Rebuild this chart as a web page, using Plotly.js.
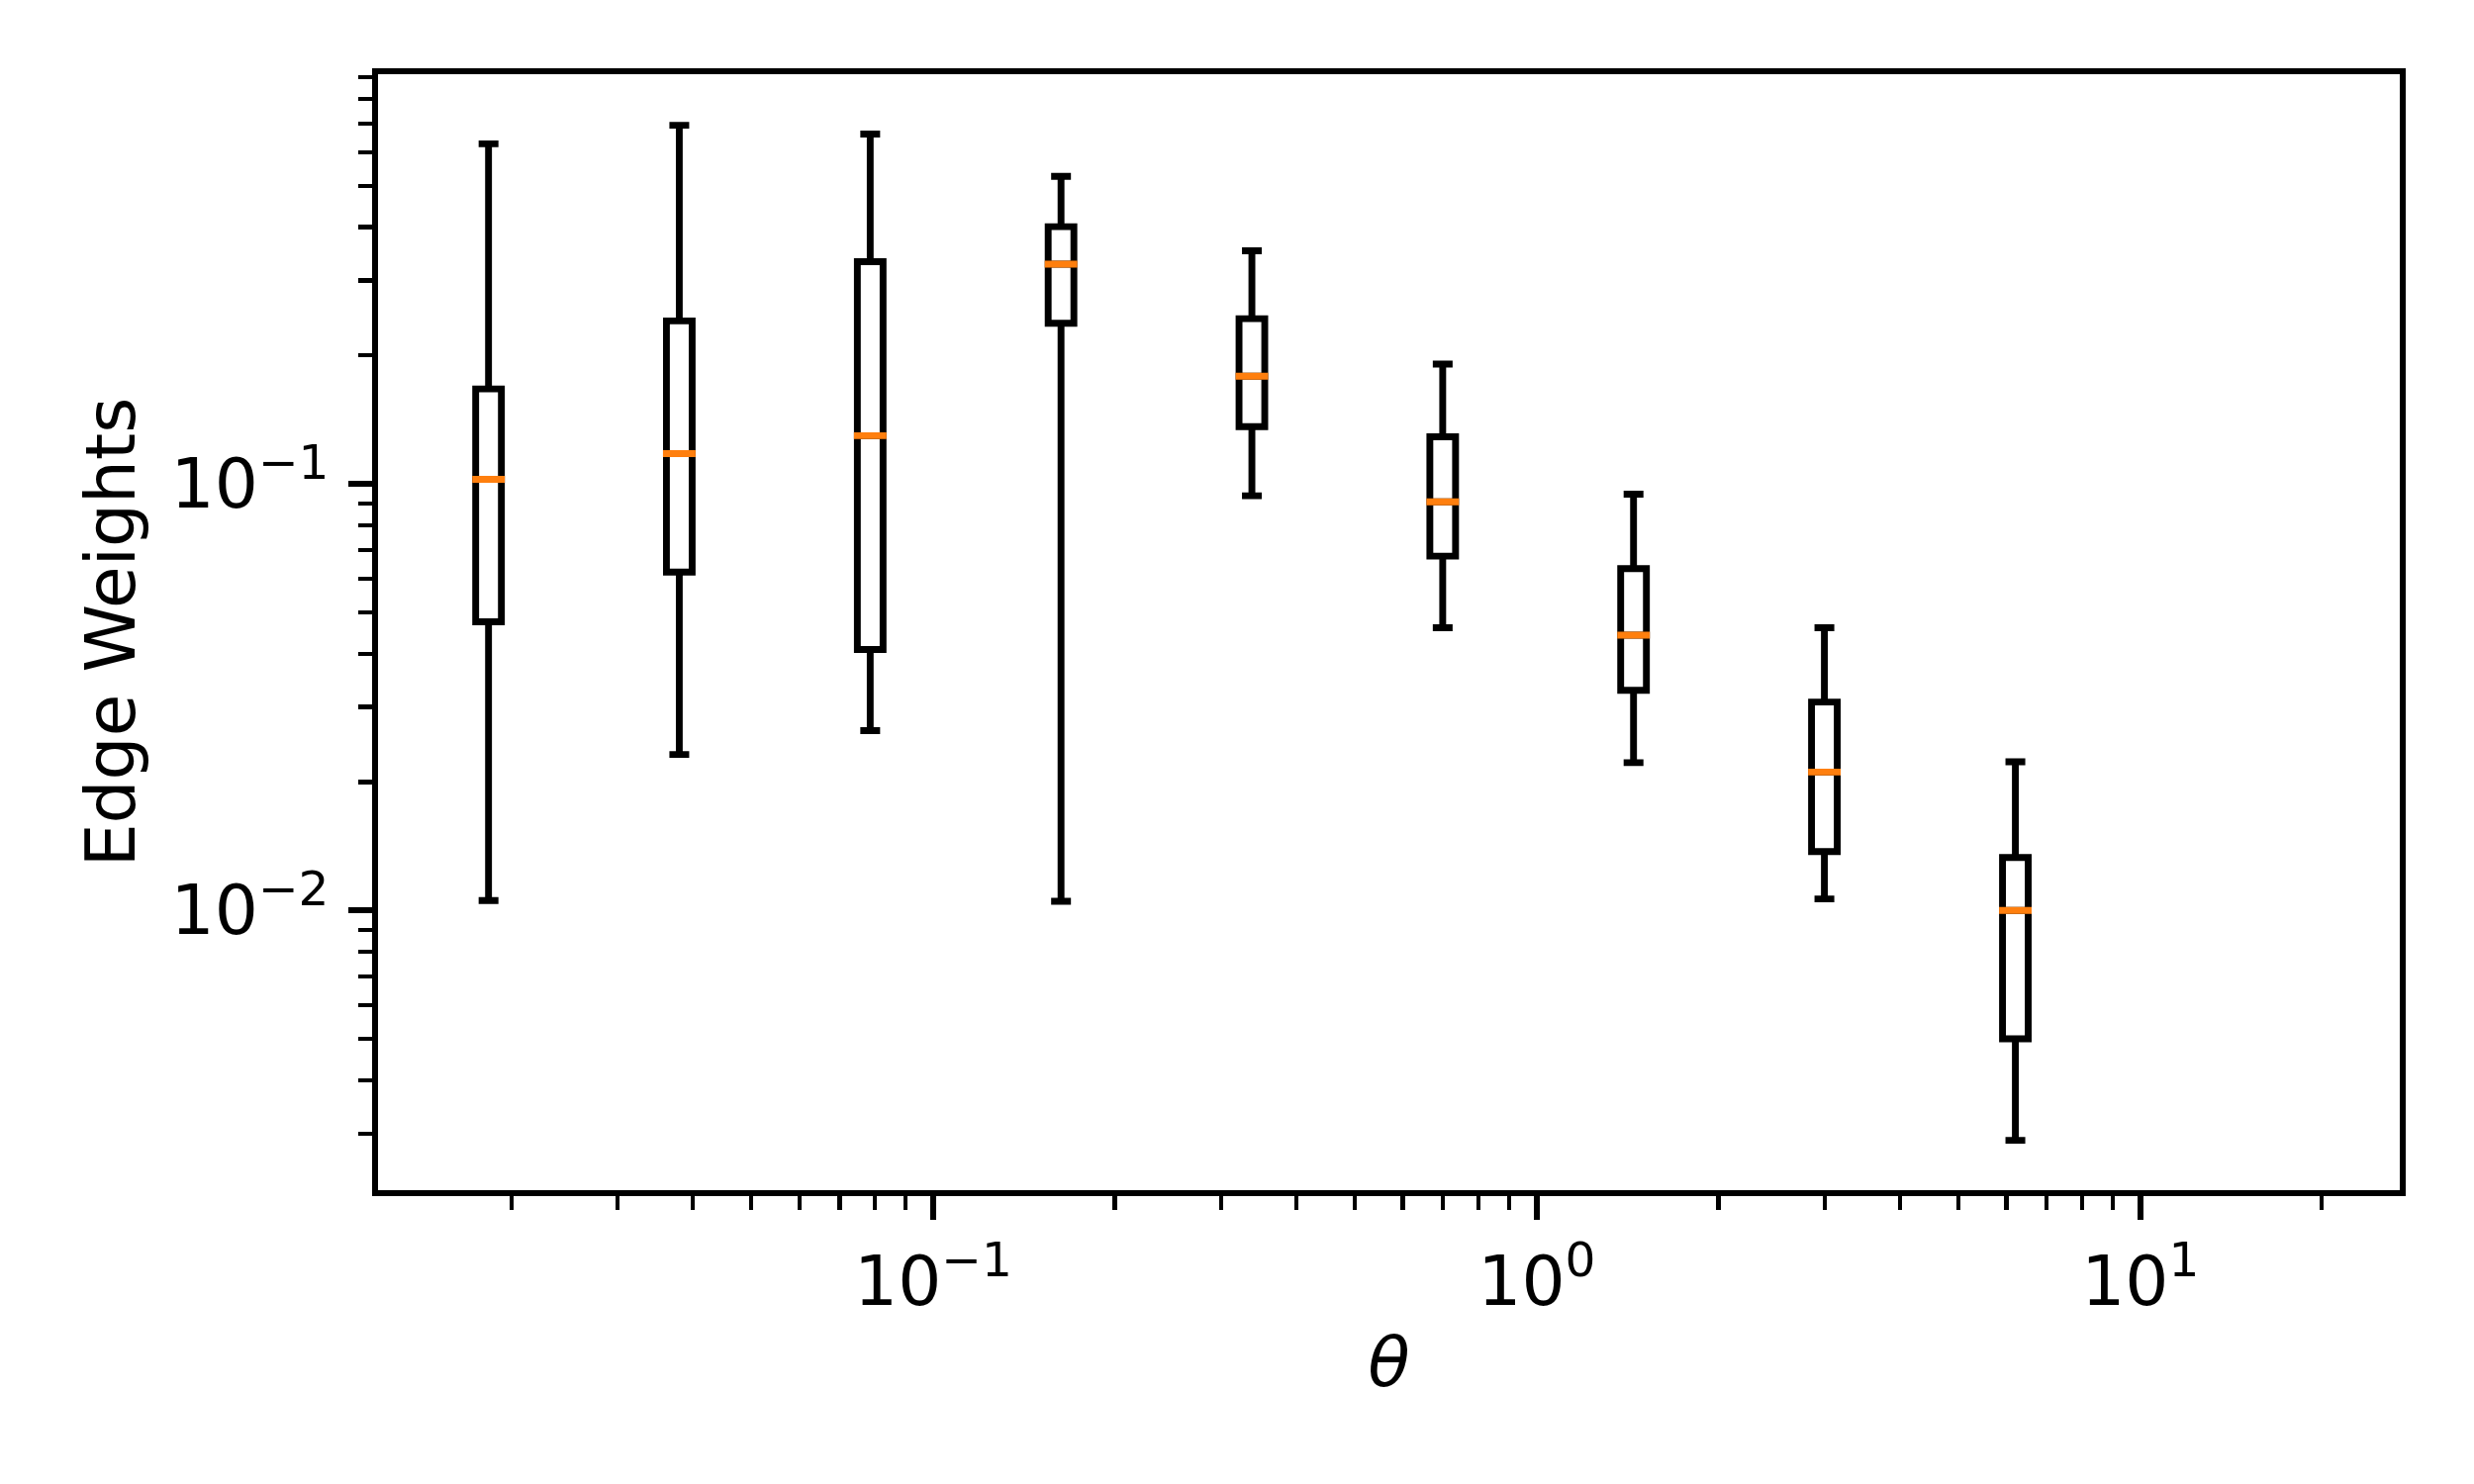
<!DOCTYPE html>
<html>
<head>
<meta charset="utf-8">
<script src="https://cdn.plot.ly/plotly-3.0.1.min.js"></script>
<style>
  html, body { margin: 0; padding: 0; background: #fff; }
  #chart { width: 2500px; height: 1500px; }
</style>
</head>
<body>
<div id="chart"></div>
<script>
// box positions (theta) and box statistics
const theta = [0.01834, 0.03797, 0.07866, 0.1629, 0.3374, 0.6987, 1.447, 2.997, 6.210];
const upperWhisker = [0.627, 0.693, 0.661, 0.526, 0.352, 0.191, 0.0946, 0.0460, 0.0223];
const q3 = [0.167, 0.241, 0.332, 0.401, 0.244, 0.129, 0.0633, 0.0308, 0.0133];
const medians = [0.1025, 0.1178, 0.1297, 0.3275, 0.1789, 0.0908, 0.0442, 0.0211, 0.0100];
const q1 = [0.0475, 0.0621, 0.0409, 0.238, 0.1362, 0.0677, 0.0328, 0.01374, 0.0050];
const lowerWhisker = [0.01055, 0.0232, 0.0264, 0.0105, 0.0938, 0.0460, 0.0222, 0.01064, 0.00289];

const xTickVals = [0.1, 1, 10];
const xTickText = ["10<sup>\u22121</sup>", "10<sup>0</sup>", "10<sup>1</sup>"];
const yTickVals = [0.01, 0.1];
const yTickText = ["10<sup>\u22122</sup>", "10<sup>\u22121</sup>"];

const xMinor = [0.02, 0.03, 0.04, 0.05, 0.06, 0.07, 0.08, 0.09,
                0.2, 0.3, 0.4, 0.5, 0.6, 0.7, 0.8, 0.9,
                2, 3, 4, 5, 6, 7, 8, 9, 20];
const yMinor = [0.003, 0.004, 0.005, 0.006, 0.007, 0.008, 0.009,
                0.02, 0.03, 0.04, 0.05, 0.06, 0.07, 0.08, 0.09,
                0.2, 0.3, 0.4, 0.5, 0.6, 0.7, 0.8, 0.9];

const FONT = "DejaVu Sans, sans-serif";
const FS = 69.4;
const LW = 6.9;             // line width (1pt at 500 dpi)
const X_RANGE = [-1.9197, 1.430];   // decades shown on the theta axis

// boxes sit on a hidden linear axis laid over the log axis, in decades,
// so every box keeps the same on-screen width like the original
const pos = theta.map(t => Math.log10(t));

// invisible points at the medians keep the visible log axes in use
const anchorTrace = {
    type: "scatter",
    mode: "markers",
    x: theta,
    y: medians,
    marker: { opacity: 0, size: 1 },
    hoverinfo: "skip",
    showlegend: false
};

const boxTrace = {
    type: "box",
    xaxis: "x2",
    x: pos,
    q1: q1,
    median: medians,
    q3: q3,
    lowerfence: lowerWhisker,
    upperfence: upperWhisker,
    width: 0.0426,
    whiskerwidth: 0.77,
    boxpoints: false,
    fillcolor: "rgba(0,0,0,0)",
    line: { color: "#000000", width: LW },
    hoverinfo: "skip",
    showlegend: false
};

// orange median bars drawn on top as flat boxes
const medianTrace = {
    type: "box",
    xaxis: "x2",
    x: pos,
    q1: medians,
    median: medians,
    q3: medians,
    lowerfence: medians,
    upperfence: medians,
    width: 0.054,
    whiskerwidth: 0,
    boxpoints: false,
    fillcolor: "rgba(0,0,0,0)",
    line: { color: "#ff7f0e", width: LW },
    hoverinfo: "skip",
    showlegend: false
};

const axisCommon = {
    showgrid: false,
    zeroline: false,
    showline: true,
    mirror: true,
    linecolor: "#000000",
    linewidth: 5.6,
    ticks: "outside",
    ticklen: 24,
    tickwidth: 5.6,
    tickcolor: "#000000",
    tickmode: "array",
    tickfont: { family: FONT, size: FS, color: "#000000" }
};

const layout = {
    width: 2500,
    height: 1500,
    paper_bgcolor: "#ffffff",
    plot_bgcolor: "#ffffff",
    boxmode: "overlay",
    margin: { l: 382, r: 75, t: 75, b: 297, pad: 0 },
    font: { family: FONT, size: FS, color: "#000000" },
    xaxis: Object.assign({}, axisCommon, {
        type: "log",
        range: X_RANGE,
        tickvals: xTickVals,
        ticktext: xTickText,
        ticklabelstandoff: 3,
        minor: { tickmode: "array", tickvals: xMinor, ticks: "outside", ticklen: 14, tickwidth: 4.2, tickcolor: "#000000", showgrid: false },
        title: { text: "<i>\u03b8</i>", font: { family: FONT, size: FS, color: "#000000" }, standoff: 20 }
    }),
    xaxis2: {
        type: "linear",
        overlaying: "x",
        range: X_RANGE,
        visible: false,
        showgrid: false,
        zeroline: false
    },
    yaxis: Object.assign({}, axisCommon, {
        type: "log",
        range: [-2.656, -0.0394],
        tickvals: yTickVals,
        ticktext: yTickText,
        ticklabelstandoff: 6,
        minor: { tickmode: "array", tickvals: yMinor, ticks: "outside", ticklen: 14, tickwidth: 4.2, tickcolor: "#000000", showgrid: false },
        title: { text: "Edge Weights", font: { family: FONT, size: FS, color: "#000000" }, standoff: 15 }
    })
};

Plotly.newPlot("chart", [anchorTrace, boxTrace, medianTrace], layout, { staticPlot: true, displayModeBar: false });
</script>
</body>
</html>
